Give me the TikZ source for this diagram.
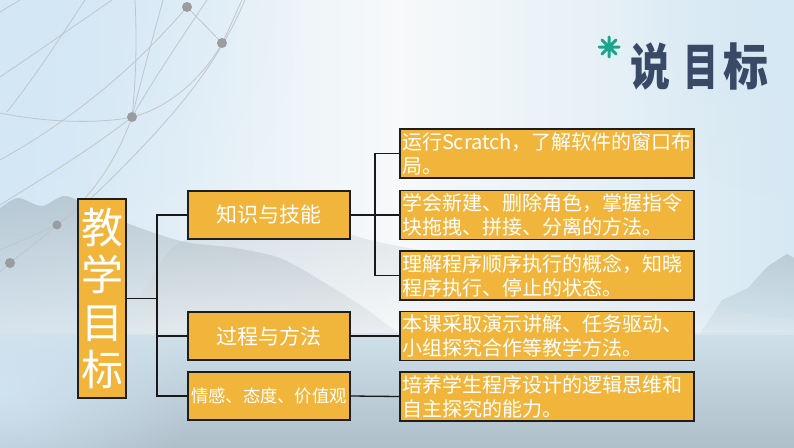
\documentclass[tikz,border=0pt]{standalone}
\usepackage{fontspec}
\usepackage{graphicx}
\setmainfont{Noto Sans CJK SC}
\usetikzlibrary{fadings}
\definecolor{boxgold}{HTML}{F2B53C}
\definecolor{edge}{HTML}{1E1E1E}
\definecolor{teal1}{HTML}{1DA58C}
\definecolor{titleblue}{HTML}{384A66}
\definecolor{skyL}{HTML}{D3E7F5}
\definecolor{skyM}{HTML}{F7F9FA}
\definecolor{skyR}{HTML}{D6E8F3}
\definecolor{waterT}{HTML}{CFE0EA}
\definecolor{waterB}{HTML}{AEBFCA}
\definecolor{hill}{HTML}{93A3AD}
\definecolor{netgray}{HTML}{C0C6CB}
\definecolor{dotgray}{HTML}{9A9C9F}
\tikzfading[name=glowfade, inner color=transparent!10, outer color=transparent!100]
\begin{document}
\begin{tikzpicture}[x=1pt,y=-1pt,
  goldbox/.style={draw=edge, line width=1.3pt, fill=boxgold, text=white, inner sep=0pt},
  midbox/.style={goldbox, minimum width=162pt, minimum height=48pt},
  textbox/.style={goldbox, text width=290pt, inner xsep=2pt, minimum height=49pt, align=left,
                  font=\fontsize{20}{24}\selectfont},
  conn/.style={draw=black!90, line width=1.3pt},
  net/.style={draw=netgray, line width=0.8pt},
  netdot/.style={fill=dotgray},
  titlechar/.style={font=\fontsize{50}{50}\selectfont\bfseries, text=titleblue, anchor=base, inner sep=0pt}]
\useasboundingbox (0,0) rectangle (794,447);
% ---------- background ----------
\shade[left color=skyL, right color=skyR, middle color=skyM] (0,0) rectangle (794,335);
\fill[skyL, path fading=glowfade] (-300,-300) rectangle (300,300);
\fill[skyR, path fading=glowfade] (620,-180) rectangle (980,200);
\shade[top color=waterT, bottom color=waterB] (0,333) rectangle (794,447);
\fill[skyL!80!waterT, path fading=glowfade] (-200,260) rectangle (200,520);
% hills and trees in mist
\shade[top color=hill!70, bottom color=skyM, opacity=0.32]
  plot[smooth] coordinates {(120,335) (170,250) (220,232) (270,222) (320,226) (370,240) (420,250) (480,258) (540,266) (600,276) (660,292) (730,310) (794,320)}
  -- (794,335) -- cycle;
\shade[top color=hill, bottom color=hill!30!white, opacity=0.45]
  plot[smooth] coordinates {(0,208) (18,198) (42,206) (66,196) (100,212) (140,228) (185,242) (235,248) (280,258) (320,280) (360,305) (400,334)}
  -- (0,335) -- cycle;
\shade[top color=hill, bottom color=waterT, opacity=0.4]
  (700,334) -- (722,300) -- (748,288) -- (768,266) -- (787,254) -- (794,258) -- (794,334) -- cycle;
% network lines
\draw[net] (0,113) .. controls (60,125) and (110,122) .. (132,117) .. controls (170,108) and (205,75) .. (222,43) .. controls (230,28) and (236,12) .. (242,0);
\draw[net] (0,77) .. controls (40,50) and (80,22) .. (112,0);
\draw[net] (0,12) -- (20,0);
\draw[net] (7,112) .. controls (40,70) and (65,30) .. (85,0);
\draw[net] (135,0) .. controls (137,40) and (136,80) .. (132,117);
\draw[net] (163,0) .. controls (152,40) and (140,85) .. (132,117);
\draw[net] (207,0) .. controls (180,40) and (150,85) .. (132,117);
\draw[net] (187,7) -- (222,43);
\draw[net] (187,7) .. controls (150,50) and (90,110) .. (0,160);
\draw[net] (132,117) .. controls (90,150) and (40,180) .. (0,205);
\draw[net] (245,0) .. controls (215,70) and (170,120) .. (110,180) .. controls (85,205) and (65,220) .. (57,225) .. controls (40,240) and (20,255) .. (10,263) -- (0,272);
\draw[net] (132,117) .. controls (120,150) and (100,190) .. (57,225) -- (0,250);
\fill[netdot] (187,7) circle (5pt);
\fill[netdot] (222,43) circle (5pt);
\fill[netdot] (132,117) circle (5pt);
\fill[netdot] (57,225) circle (4.5pt);
\fill[netdot] (10,263) circle (5pt);
% ---------- title ----------
\draw[teal1, line width=3pt, line cap=round]
  (609,37) -- (609,57) (599,47) -- (619,47)
  (601.9,39.9) -- (616.1,54.1) (601.9,54.1) -- (616.1,39.9);
\node[titlechar] (tt1) at (650,85) {\scalebox{0.8}[1]{说}};
\node[titlechar] (tt2) at (701,85) {\scalebox{0.7}[1]{目}};
\node[titlechar] (tt3) at (746,85) {\scalebox{0.9}[1]{标}};
% ---------- nodes ----------
\node[goldbox, minimum width=48pt, minimum height=199pt, align=center,
      font=\fontsize{42}{47.5}\selectfont] (goal) at (102,298.5) {教\\学\\目\\标};
\node[midbox, font=\fontsize{21}{24}\selectfont] (m1) at (269,215) {知识与技能};
\node[midbox, font=\fontsize{21}{24}\selectfont] (m2) at (269,336) {过程与方法};
\node[midbox, font=\fontsize{17.3}{20}\selectfont] (m3) at (269,396) {情感、态度、价值观};
\node[textbox] (r1) at (547,153.5) {运行Scratch，了解软件的窗口布\\局。};
\node[textbox] (r2) at (547,215) {学会新建、删除角色，掌握指令\\块拖拽、拼接、分离的方法。};
\node[textbox] (r3) at (547,275.5) {理解程序顺序执行的概念，知晓\\程序执行、停止的状态。};
\node[textbox] (r4) at (547,336) {本课采取演示讲解、任务驱动、\\小组探究合作等教学方法。};
\node[textbox] (r5) at (547,396.5) {培养学生程序设计的逻辑思维和\\自主探究的能力。};
% ---------- connectors ----------
\coordinate (ja) at (157,215);
\coordinate (jb) at (157,396);
\coordinate (ka) at (375,153.5);
\coordinate (kb) at (375,275.5);
\draw[conn] (goal.east) -- (goal.east -| ja);
\draw[conn] (m1.west) -- (ja) -- (jb) -- (m3.west);
\draw[conn] (m2.west) -- (m2.west -| ja);
\draw[conn] (r1.west) -- (ka) -- (kb) -- (r3.west);
\draw[conn] (m1.east) -- (r2.west);
\draw[conn] (m2.east) -- (r4.west);
\draw[conn] (m3.east) -- (r5.west);
\end{tikzpicture}
\end{document}
